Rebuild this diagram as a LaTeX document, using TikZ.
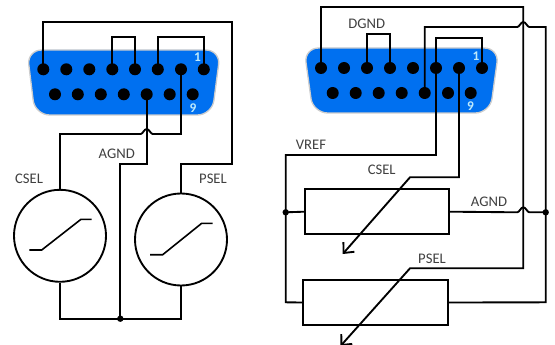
\documentclass[tikz,border=0pt]{standalone}
\usepackage{fontspec}
\setmainfont{Carlito}
\usetikzlibrary{arrows.meta, calc}
\definecolor{shellblue}{RGB}{0,112,240}
\definecolor{shelledge}{RGB}{205,205,205}
\tikzset{
  wire/.style={line width=1.4pt, black, line join=miter},
  thinwire/.style={line width=1.2pt, black, line join=miter},
  pin/.style={circle, fill=black, inner sep=0pt, minimum size=9pt},
  dot/.style={circle, fill=black, inner sep=0pt, minimum size=4.8pt},
  shell/.style={fill=shellblue, draw=shelledge, line width=1pt, rounded corners=11pt},
  meter/.style={circle, draw=black, line width=1.4pt, inner sep=0pt, minimum size=69pt},
  resistor/.style={rectangle, draw=black, line width=1.4pt, inner sep=0pt},
  lbl/.style={font=\fontsize{11}{12}\selectfont, text=black!75},
  pinno/.style={font=\bfseries\fontsize{10}{11}\selectfont, text=cyan!25},
  barb/.style={-{Straight Barb[length=6pt, width=11pt]}}
}
\begin{document}
\begin{tikzpicture}[x=.75pt, y=-.75pt]
 \useasboundingbox (0,0) rectangle (555,345);

 % left connector
 \draw [shell] (27,50) -- (220.5,50) -- (212,115) -- (35,115) -- cycle;
 \foreach \i/\x in {1/43.3,2/66.3,3/89.3,4/112.3,5/135,6/157.8,7/181,8/203.8}
   \node [pin] (lt\i) at (\x,69.3) {};
 \foreach \i/\x in {1/55,2/77.8,3/100.8,4/123.8,5/146.7,6/169.7,7/192.7}
   \node [pin] (lb\i) at (\x,94.3) {};
 \node [pinno] (lone) at (197.5,57.5) {1};
 \node [pinno] (lnine) at (193,108) {9};

 % right connector
 \draw [shell] (304,48) -- (499,48) -- (490,113) -- (313,113) -- cycle;
 \foreach \i/\x in {1/321,2/344,3/367,4/390,5/413,6/436,7/459,8/482}
   \node [pin] (rt\i) at (\x,68) {};
 \foreach \i/\x in {1/332.7,2/355.7,3/378.7,4/401.7,5/424.7,6/448,7/470.7}
   \node [pin] (rb\i) at (\x,93) {};
 \node [pinno] (rone) at (476,56) {1};
 \node [pinno] (rnine) at (470.5,106.5) {9};

 % left meters
 \node [meter] (csel) at (60,235.8) {};
 \node [meter] (psel) at (181,239.5) {};
 \node [dot] (lgnd) at (120.3,318.7) {};
 \coordinate (lhop) at (146.7,134);

 \draw [wire] (lt1.center) -- (43.3,22) -- (232,22) -- (232,164) -- (181,164) -- (psel.north);
 \draw [wire] (lt4.center) -- (112.3,37) -- (135,37) -- (lt5.center);
 \draw [wire] (lt6.center) -- (157.8,37) -- (203.8,37) -- (lt8.center);
 \draw [wire] (lb5.center) -- (146.7,164) -- (120.3,164) -- (lgnd.center);
 \draw [wire] (csel.north) -- (60,134) -- ($(lhop)+(-6,0)$)
   .. controls +(2,0) and +(-2.5,0) .. ($(lhop)+(0,-5)$)
   .. controls +(2.5,0) and +(-2,0) .. ($(lhop)+(6,0)$) -- (181,134) -- (lt7.center);
 \draw [wire] (csel.south) -- (60,318.7) -- (lgnd.center) -- (181,318.7) -- (psel.south);
 \draw [thinwire] (29.3,250) -- (41.7,250) -- (81,219.3) -- (91.7,219.3);
 \draw [thinwire] (150,254.7) -- (162.7,254.7) -- (201.7,223.3) -- (212.7,223.3);

 % right resistors
 \node [resistor, minimum width=108pt, minimum height=33.5pt] (rfirst) at (377,211.7) {};
 \node [resistor, minimum width=108.7pt, minimum height=33.7pt] (rsecond) at (375.2,302.5) {};
 \node [dot] (rjl) at (285.7,212.3) {};
 \node [dot] (rjr) at (545.7,212.3) {};
 \coordinate (rhopa) at (523.3,27);
 \coordinate (rhopb) at (523.3,212.3);
 \coordinate (cselarrow) at (342.7,254);
 \coordinate (pselarrow) at (340.5,346);

 \draw [wire, barb] (rt1.center) -- (321,7) -- (523.3,7) -- (523.3,268.3) -- (410,268.3) -- (pselarrow);
 \draw [wire] (rt3.center) -- (367,34) -- (390,34) -- (rt4.center);
 \draw [wire] (rb5.center) -- (424.7,27) -- ($(rhopa)+(-6,0)$)
   .. controls +(2,0) and +(-2.5,0) .. ($(rhopa)+(0,-5)$)
   .. controls +(2.5,0) and +(-2,0) .. ($(rhopa)+(6,0)$) -- (545.7,27) -- (545.7,302.3) -- (rsecond.east);
 \draw [wire] (rt8.center) -- (482,38) -- (436,38) -- (436,155) -- (285.7,155) -- (285.7,302.3) -- (rsecond.west);
 \draw [wire] (rjl.center) -- (rfirst.west);
 \draw [wire] (rfirst.east) -- ($(rhopb)+(-6,0)$)
   .. controls +(2,0) and +(-2.5,0) .. ($(rhopb)+(0,-5)$)
   .. controls +(2.5,0) and +(-2,0) .. ($(rhopb)+(6,0)$) -- (rjr.center);
 \draw [wire, barb] (rt7.center) -- (459,177.3) -- (410,177.3) -- (cselarrow);

 % labels
 \node [lbl] (lagnd) at (116.7,154) {AGND};
 \node [lbl] (lcsel) at (29,179) {CSEL};
 \node [lbl] (lpsel) at (213,179) {PSEL};
 \node [lbl] (rdgnd) at (366.7,24) {DGND};
 \node [lbl] (rvref) at (311,145) {VREF};
 \node [lbl] (rcsel) at (381.7,170) {CSEL};
 \node [lbl] (ragnd) at (489,202) {AGND};
 \node [lbl] (rpsel) at (432,258.7) {PSEL};
\end{tikzpicture}
\end{document}
